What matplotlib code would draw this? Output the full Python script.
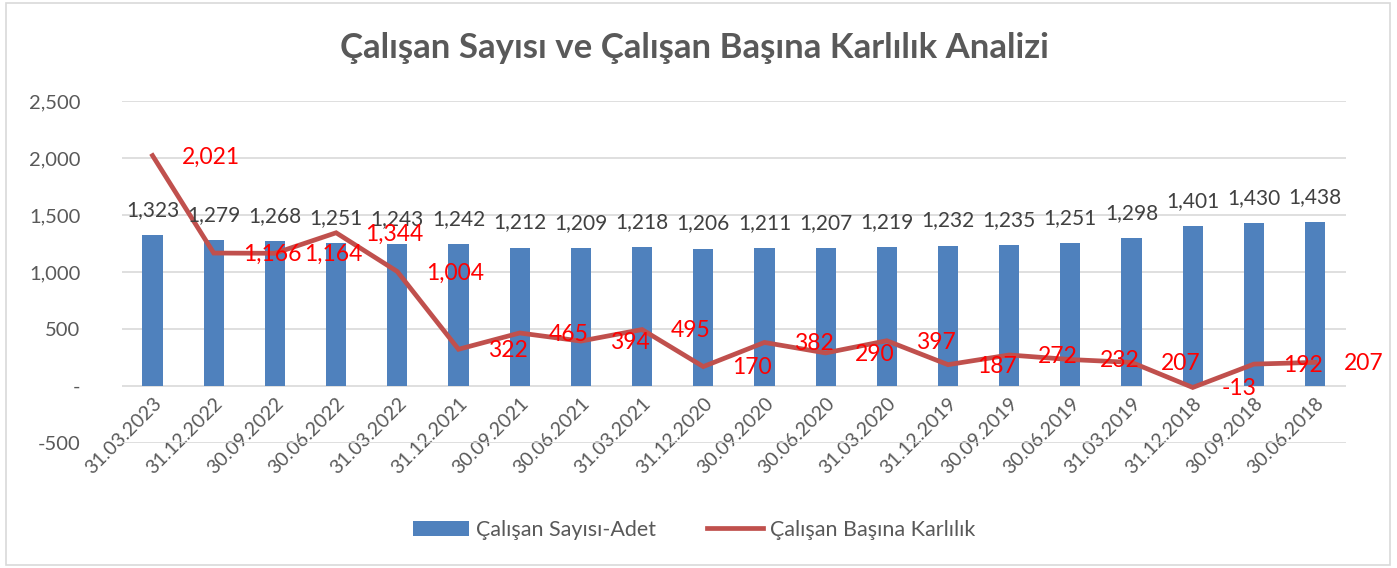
import matplotlib
matplotlib.use("Agg")
import matplotlib.pyplot as plt
from matplotlib.patches import Rectangle
from matplotlib.ticker import FuncFormatter, MultipleLocator

dates = ["31.03.2023", "31.12.2022", "30.09.2022", "30.06.2022", "31.03.2022",
         "31.12.2021", "30.09.2021", "30.06.2021", "31.03.2021", "31.12.2020",
         "30.09.2020", "30.06.2020", "31.03.2020", "31.12.2019", "30.09.2019",
         "30.06.2019", "31.03.2019", "31.12.2018", "30.09.2018", "30.06.2018"]
employees = [1323, 1279, 1268, 1251, 1243, 1242, 1212, 1209, 1218, 1206,
             1211, 1207, 1219, 1232, 1235, 1251, 1298, 1401, 1430, 1438]
profit_per_emp = [2021, 1166, 1164, 1344, 1004, 322, 465, 394, 495, 170,
                  382, 290, 397, 187, 272, 232, 207, -13, 192, 207]

FONT = ["Lato", "DejaVu Sans"]
plt.rcParams['font.family'] = FONT

BAR_C = "#4F81BD"
LINE_C = "#C0504D"
TXT_C = "#595959"

fig = plt.figure(figsize=(13.97, 5.68), dpi=100)
fig.patches.append(Rectangle((0.004, 0.005), 0.991, 0.99, transform=fig.transFigure,
                             fill=False, edgecolor="#D9D9D9", linewidth=1.2))
ax = fig.add_axes([0.0873, 0.2201, 0.876, 0.6021])

x = list(range(len(dates)))
bar_c = ax.bar(x, employees, width=0.33, color=BAR_C, zorder=2, label="Çalışan Sayısı-Adet")
line, = ax.plot(x, profit_per_emp, color=LINE_C, linewidth=3.4, zorder=3,
                solid_joinstyle='miter', label="Çalışan Başına Karlılık")

for xi, v in zip(x, employees):
    ax.annotate(f"{v:,}", (xi, v), xytext=(0, 11), textcoords="offset points",
                ha="center", va="bottom", fontsize=15, color="#404040", zorder=4)

for xi, v in zip(x, profit_per_emp):
    ax.annotate(f"{v:,}", (xi, v), xytext=(21, -1), textcoords="offset points",
                ha="left", va="center", fontsize=16.5, color="#FF0000", zorder=5)

ax.set_xlim(-0.5, len(dates) - 0.5)
ax.set_ylim(-500, 2500)
ax.yaxis.set_major_locator(MultipleLocator(500))
ax.yaxis.set_major_formatter(FuncFormatter(lambda v, p: "-" if v == 0 else f"{int(v):,}"))
ax.grid(axis='y', color="#D9D9D9", linewidth=1.2, zorder=0)
ax.set_axisbelow(True)
for s in ax.spines.values():
    s.set_visible(False)
ax.spines['bottom'].set_position(('data', 0))
ax.tick_params(axis='both', length=0, colors=TXT_C)
ax.tick_params(axis='y', pad=30, labelsize=14.5)
ax.set_xticks(x)
ax.set_xticklabels(dates, rotation=45, ha='right', va='top', rotation_mode='anchor')
ax.tick_params(axis='x', pad=6, labelsize=14)

fig.text(0.497, 0.915, "Çalışan Sayısı ve Çalışan Başına Karlılık Analizi",
         ha='center', va='center', fontsize=25, fontweight='bold', color=TXT_C)

leg = fig.legend([bar_c, line], ["Çalışan Sayısı-Adet", "Çalışan Başına Karlılık"],
                 loc='center', bbox_to_anchor=(0.497, 0.067), ncol=2, frameon=False,
                 fontsize=15.5, handlelength=2.6, columnspacing=2.4, handletextpad=0.3)
for t in leg.get_texts():
    t.set_color(TXT_C)

fig.savefig("out.png", dpi=100)
